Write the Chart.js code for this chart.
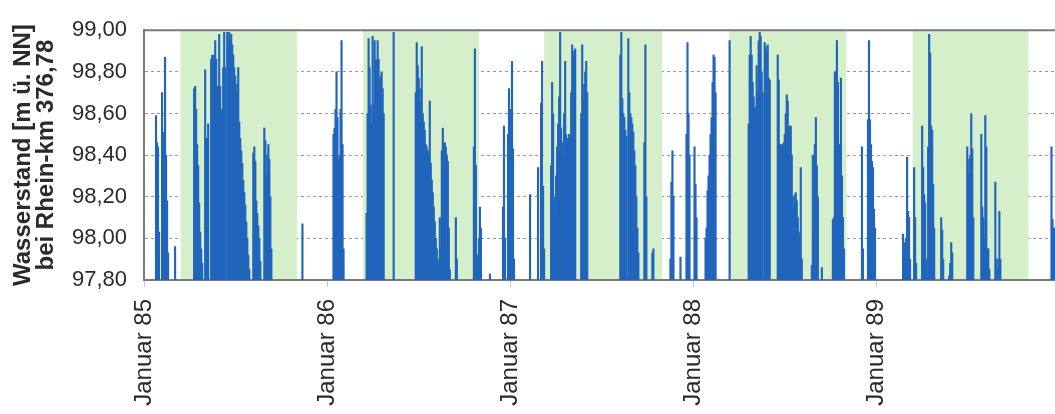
<!DOCTYPE html>
<html>
<head>
<meta charset="utf-8">
<script src="https://cdn.jsdelivr.net/npm/chart.js@4/dist/chart.umd.min.js"></script>
<style>
html,body{margin:0;padding:0;background:#fff;}
#wrap{width:1055px;height:414px;}
</style>
</head>
<body>
<div id="wrap"><canvas id="c" width="1055" height="414"></canvas></div>
<script>
// x = days since 1 January 1985
const tickDays = [0, 365, 730, 1095, 1461];
const tickLabels = ['Januar 85', 'Januar 86', 'Januar 87', 'Januar 88', 'Januar 89'];
const yMin = 97.8, yMax = 99.0, yStep = 0.2;
const xMax = 1817;
const summerStart = [73, 437, 798, 1167, 1533];
const summerEnd   = [305, 668, 1033, 1401, 1764];

// [day, Wasserstand m ü. NN]
const obs1985 = [
  [24,98.59],[26,98.46],[28,98.44],[30,98.03],
  [36,98.70],[38,98.51],[40,98.48],[42,98.87],[44,98.40],[46,98.18],[48,97.93],
  [62,97.96],
  [100,98.72],[102,98.73],[104,98.62],[106,98.45],[108,98.35],[110,98.17],[112,98.03],[114,97.95],[116,97.88],
  [122,98.81],[124,98.48],[126,98.48],[128,98.55],
  [134,98.86],[136,98.88],[138,98.85],[140,98.88],[142,98.95],[144,98.86],[146,98.73],[148,98.73],[150,98.98],
  [152,98.73],[154,98.62],[156,98.62],[158,98.82],[160,98.99],[162,98.82],[166,98.99],[168,98.95],[170,98.99],
  [172,98.95],[174,98.98],[176,98.93],[178,98.88],[180,98.82],[182,98.78],[184,98.70],[186,98.74],[188,98.82],
  [190,98.56],[192,98.48],[194,98.42],[196,98.36],[198,98.28],[200,98.22],[202,98.16],[204,98.08],[206,98.00],
  [208,97.92],[210,97.85],
  [218,98.41],[220,98.44],[222,98.37],[224,98.18],[226,98.12],[228,98.06],[230,98.00],[232,97.89],
  [240,98.53],[242,98.47],[244,98.30],[246,98.40],[248,98.45],[250,98.38],[252,98.20],[254,97.95],
  [316,98.07]
];
const obs1986 = [
  [378,98.50],[380,98.53],[382,98.62],[384,98.80],[386,98.58],[388,98.38],[390,98.40],[392,98.62],[394,98.95],[396,98.45],[398,97.95],
  [444,98.12],[446,98.60],[448,98.96],[450,98.82],[452,98.64],[454,98.55],[456,98.97],[458,98.64],[460,98.95],
  [462,98.86],[464,98.85],[466,98.95],[468,98.86],[470,98.76],[472,98.78],[474,98.80],[476,98.72],[478,98.60],
  [498,98.99],
  [542,98.70],[544,98.94],[546,98.83],[548,98.77],[550,98.72],[552,98.65],[554,98.92],[556,98.60],[558,98.56],
  [560,98.52],[562,98.45],[564,98.44],[566,98.42],[568,98.40],[570,98.66],[572,98.36],[574,98.28],[576,98.22],
  [578,98.15],[580,98.08],[582,98.00],[584,97.95],[586,97.90],[588,97.88],[590,98.10],[592,97.95],
  [594,98.42],[596,98.53],[598,98.45],[600,98.46],[602,98.44],[604,98.40],[606,98.37],[608,98.05],[610,97.85],
  [622,98.10],[624,97.90],
  [658,98.44],[660,98.91],[662,98.35],[664,97.92],[666,97.92],[668,98.00],[670,98.15],[672,98.05],
  [690,97.83],
  [716,98.15],[718,98.54],[720,98.00],[726,98.50],[728,98.72]
];
const obs1987 = [
  [732,98.62],[734,98.85],[736,98.43],[738,97.90],
  [770,98.21],
  [786,98.34],
  [792,98.65],[794,98.85],[796,98.25],[798,97.95],
  [812,98.35],[814,98.75],[816,98.60],[818,98.20],[820,98.10],[822,98.30],[824,98.44],[826,98.55],[828,98.68],
  [830,98.99],[832,98.53],[834,98.46],[836,98.40],[838,98.60],[840,98.85],[842,98.50],[844,98.48],[846,98.48],
  [848,98.50],[850,98.48],[852,98.70],[854,98.93],[856,98.88],[858,98.90],[860,98.91],
  [872,98.60],[874,98.93],[876,98.66],[878,98.74],[880,98.80],[882,98.85],[884,98.70],
  [950,98.88],[952,98.99],[954,98.67],[956,98.60],[958,98.58],[960,98.52],[962,98.49],
  [966,98.96],[968,98.70],[970,98.60],[972,98.58],[974,98.55],[976,98.51],[978,98.42],[980,98.35],[982,98.20],[984,98.05],[986,97.93],
  [998,98.46],[1000,98.93],[1002,98.20],
  [1014,97.93],[1016,97.95],
  [1050,97.90],[1052,98.27],[1054,98.42],[1056,98.20],
  [1070,97.91],
  [1082,98.50],[1084,98.94],[1086,98.60],[1088,98.40]
];
const obs1988 = [
  [1098,98.44],[1100,98.26],[1102,98.10],
  [1120,98.00],[1122,98.05],[1124,98.23],[1126,98.30],[1128,98.40],[1130,98.50],[1132,98.58],[1134,98.75],[1136,98.88],[1138,98.87],[1140,98.70],
  [1168,98.95],
  [1206,98.55],[1208,98.88],[1210,98.97],[1212,98.88],[1214,98.75],[1216,98.68],[1218,98.63],[1220,98.63],[1222,98.83],
  [1224,98.70],[1226,98.95],[1228,98.99],[1230,98.97],[1232,98.80],[1234,98.70],
  [1238,98.94],[1240,98.92],[1242,98.90],[1244,98.93],[1246,98.77],[1248,98.76],
  [1264,98.88],[1266,98.76],[1268,98.45],[1270,98.45],[1272,98.45],[1274,98.45],[1276,98.46],[1278,98.50],[1280,98.60],
  [1282,98.69],[1284,98.66],[1286,98.52],[1288,98.54],[1290,98.54],[1292,98.40],[1294,98.20],[1296,98.15],[1298,98.21],
  [1300,98.22],[1302,98.18],[1304,98.10],[1306,98.03],[1308,98.00],[1310,98.34],[1312,97.90],
  [1332,97.87],[1334,98.40],[1336,98.00],[1338,98.45],[1340,98.58],[1342,98.35],[1344,98.20],
  [1352,97.86],
  [1374,98.09],[1376,98.10],[1378,98.80],[1380,98.80],[1382,98.95],[1384,98.75],[1386,98.43],[1388,98.45],[1390,98.77],
  [1392,98.30],[1394,98.10],[1396,97.95],
  [1432,98.44],[1434,97.95],
  [1444,98.57],[1446,98.95],[1448,98.57],[1450,98.45],[1452,98.37],[1454,98.34],[1456,98.14],[1458,98.05]
];
const obs1989 = [
  [1514,98.02],[1516,97.95],[1518,97.98],[1520,98.00],[1522,98.39],[1524,98.13],[1526,98.10],[1528,97.90],
  [1536,98.34],[1538,98.10],[1540,97.88],
  [1552,98.54],[1554,98.34],[1556,98.21],[1558,98.17],[1560,97.90],
  [1564,98.44],[1566,98.98],[1568,98.89],[1570,98.54],[1572,98.52],[1574,98.26],[1576,98.05],
  [1590,98.10],[1592,98.04],[1594,97.90],
  [1606,97.82],[1608,97.88],[1610,97.98],[1612,97.93],
  [1642,98.44],[1644,98.31],[1646,98.38],[1648,98.40],[1650,98.60],[1652,98.43],[1654,98.10],
  [1670,98.50],[1672,98.15],[1674,98.10],[1676,98.00],[1678,98.59],[1680,98.44],[1682,97.95],[1684,97.95],[1686,97.85],
  [1698,98.27],[1700,97.90],[1702,97.85],[1704,97.90],[1706,98.13],[1708,97.90],
  [1810,98.44],[1812,98.09],[1814,98.05],[1816,98.05]
];

const FONT = "'Liberation Sans', Arial, Helvetica, sans-serif";
const allObs = [].concat(obs1985, obs1986, obs1987, obs1988, obs1989);

const summerBands = {
  id: 'summerBands',
  beforeDatasetsDraw(chart) {
    const {ctx, chartArea: a, scales: {x}} = chart;
    ctx.save();
    ctx.fillStyle = 'rgb(213,239,202)';
    for (let i = 0; i < summerStart.length; i++) {
      const x0 = x.getPixelForValue(summerStart[i]);
      const x1 = x.getPixelForValue(summerEnd[i]);
      ctx.fillRect(x0, a.top, x1 - x0, a.bottom - a.top - 1);
    }
    ctx.restore();
  },
  afterDraw(chart) {
    const {ctx, chartArea: a} = chart;
    ctx.save();
    ctx.strokeStyle = '#7a7a7a';
    ctx.lineWidth = 2;
    ctx.beginPath();
    ctx.moveTo(a.left - 1, a.top);
    ctx.lineTo(a.right, a.top);
    ctx.stroke();
    ctx.restore();
  }
};

new Chart(document.getElementById('c'), {
  type: 'bar',
  data: {
    datasets: [{
      label: 'Wasserstand',
      data: allObs.map(p => ({x: p[0], y: p[1]})),
      backgroundColor: 'rgb(33,101,188)',
      borderWidth: 0,
      barThickness: 1.5
    }]
  },
  options: {
    responsive: false,
    animation: false,
    devicePixelRatio: 1,
    layout: {padding: {top: 22, right: 0, bottom: 0, left: 0}},
    plugins: {legend: {display: false}, tooltip: {enabled: false}},
    scales: {
      x: {
        type: 'linear',
        min: 0,
        max: xMax,
        offset: false,
        afterBuildTicks: s => { s.ticks = tickDays.map(v => ({value: v})); },
        afterFit: s => { s.height = 134; },
        ticks: {
          autoSkip: false,
          maxRotation: 90,
          minRotation: 90,
          padding: 12,
          color: '#2a2a2a',
          font: {family: FONT, size: 24},
          callback: (v, i) => tickLabels[i]
        },
        grid: {offset: false, drawOnChartArea: false, drawTicks: true, tickLength: 7, tickColor: '#c8c8c8', tickWidth: 1},
        border: {display: true, color: '#7a7a7a', width: 2}
      },
      y: {
        min: yMin,
        max: yMax,
        afterBuildTicks: s => {
          const t = [];
          for (let v = yMin; v <= yMax + 1e-9; v += yStep) t.push({value: Math.round(v * 100) / 100});
          s.ticks = t;
        },
        afterFit: s => { s.width = 144; },
        ticks: {
          padding: 17,
          color: '#2a2a2a',
          font: {family: FONT, size: 22},
          callback: v => v.toFixed(2).replace('.', ',')
        },
        grid: {drawTicks: false, color: '#9a9a9a', lineWidth: 1},
        border: {display: true, color: '#7a7a7a', width: 2, dash: [3, 3]},
        title: {
          display: true,
          text: ['Wasserstand [m ü. NN]', 'bei Rhein-km 376,78'],
          color: '#2a2a2a',
          font: {family: FONT, size: 24, weight: 'bold', lineHeight: 0.95},
          padding: {top: 12, bottom: 0}
        }
      }
    }
  },
  plugins: [summerBands]
});
</script>
</body>
</html>
